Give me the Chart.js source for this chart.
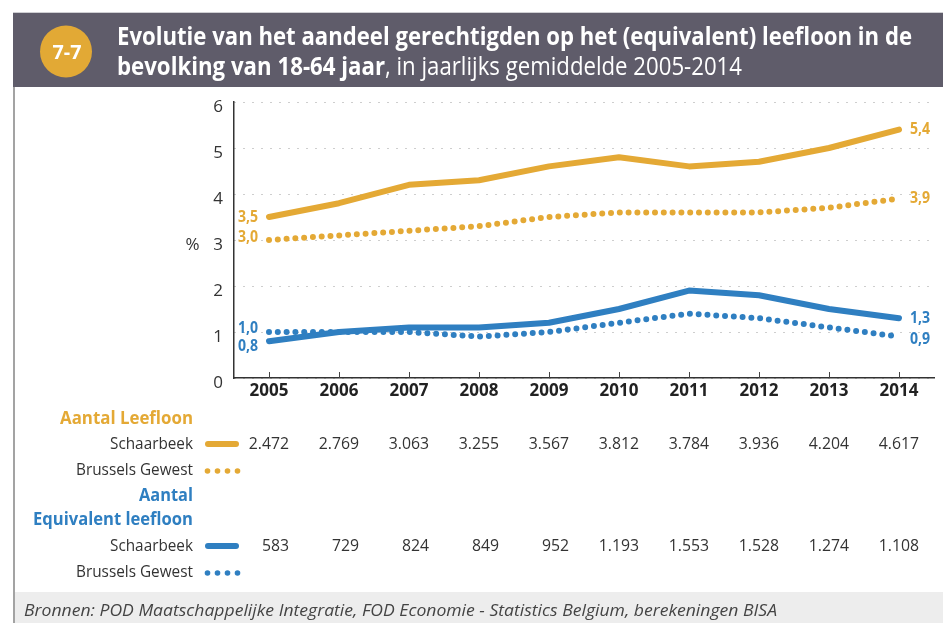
<!DOCTYPE html>
<html><head><meta charset="utf-8">
<script src="https://cdn.jsdelivr.net/npm/chart.js@4.4.1/dist/chart.umd.min.js"></script>
<style>html,body{margin:0;padding:0;background:#fff;overflow:hidden}#wrap{width:943px;height:623px;position:relative}</style>
</head><body><div id="wrap"><canvas id="c" width="943" height="623"></canvas></div>
<script>
// ---- data ----
const years = ['2005','2006','2007','2008','2009','2010','2011','2012','2013','2014'];
const leefloonSchaarbeek = [3.5, 3.8, 4.2, 4.3, 4.6, 4.8, 4.6, 4.7, 5.0, 5.4];
const leefloonBrussel    = [3.0, 3.1, 3.2, 3.3, 3.5, 3.6, 3.6, 3.6, 3.7, 3.9];
const equivSchaarbeek    = [0.8, 1.0, 1.1, 1.1, 1.2, 1.5, 1.9, 1.8, 1.5, 1.3];
const equivBrussel       = [1.0, 1.0, 1.0, 0.9, 1.0, 1.2, 1.4, 1.3, 1.1, 0.9];
const aantalLeefloonSchaarbeek = [2472, 2769, 3063, 3255, 3567, 3812, 3784, 3936, 4204, 4617];
const aantalEquivSchaarbeek    = [583, 729, 824, 849, 952, 1193, 1553, 1528, 1274, 1108];
const yMin = 0, yMax = 6, yStep = 1;
const titleLine1 = 'Evolutie van het aandeel gerechtigden op het (equivalent) leefloon in de';
const titleLine2Bold = 'bevolking van 18-64 jaar';
const titleLine2Rest = ', in jaarlijks gemiddelde 2005-2014';
const badge = '7-7';
const source = 'Bronnen: POD Maatschappelijke Integratie, FOD Economie - Statistics Belgium, berekeningen BISA';
const groupLeefloon = 'Aantal Leefloon';
const groupEquiv1 = 'Aantal';
const groupEquiv2 = 'Equivalent leefloon';
const rowSchaarbeek = 'Schaarbeek';
const rowBrussel = 'Brussels Gewest';

// ---- styles ----
const ORANGE = '#e4a935';
const BLUE = '#2f7fc1';
const FONT = '"Open Sans", "DejaVu Sans", sans-serif';

function txt(ctx, s, x, y, o) {
  ctx.save();
  ctx.font = o.font; ctx.fillStyle = o.color || '#333';
  ctx.textBaseline = o.baseline || 'middle'; ctx.textAlign = 'left';
  const mw = ctx.measureText(s).width;
  const sx = o.width ? o.width / mw : (o.sx || 1);
  const w = mw * sx;
  const left = o.align === 'right' ? x - w : o.align === 'center' ? x - w / 2 : x;
  ctx.translate(left, y); ctx.scale(sx, 1); ctx.fillText(s, 0, 0);
  ctx.restore();
  return w;
}
const fmt1 = v => v.toFixed(1).replace('.', ',');
const fmtK = n => String(n).replace(/\B(?=(\d{3})+(?!\d))/g, '.');

const decor = {
  id: 'decor',
  beforeDraw(chart) {
    const ctx = chart.ctx;
    ctx.save();
    ctx.fillStyle = '#fff'; ctx.fillRect(0, 0, 943, 623);
    ctx.fillStyle = '#cfcfd3'; ctx.fillRect(13, 12, 930, 1);
    ctx.fillStyle = '#5f5c6a'; ctx.fillRect(13, 13, 930, 74);
    ctx.fillStyle = '#a3a3a3'; ctx.fillRect(13, 87, 2, 536);
    ctx.fillStyle = '#ededed'; ctx.fillRect(15, 592, 928, 31);
    ctx.beginPath(); ctx.arc(66, 51.5, 26, 0, Math.PI * 2); ctx.fillStyle = '#e2a935'; ctx.fill();
    ctx.restore();
    txt(ctx, badge, 67, 53, {font: 'bold 20px ' + FONT, color: '#fff', align: 'center', width: 29});
    txt(ctx, titleLine1, 117, 45, {font: 'bold 25px ' + FONT, color: '#fff', baseline: 'alphabetic', width: 795});
    const w = txt(ctx, titleLine2Bold, 117, 75, {font: 'bold 25px ' + FONT, color: '#fff', baseline: 'alphabetic', width: 268});
    txt(ctx, titleLine2Rest, 117 + w, 75, {font: '25px ' + FONT, color: '#fff', baseline: 'alphabetic', width: 742 - 117 - w});
    txt(ctx, source, 24, 611, {font: 'italic 17px ' + FONT, color: '#444', width: 753});
  },
  beforeDatasetsDraw(chart) {
    const ctx = chart.ctx, xs = chart.scales.x, bottom = chart.chartArea.bottom;
    ctx.save(); ctx.strokeStyle = '#444'; ctx.lineWidth = 1;
    xs.ticks.forEach((t, i) => {
      const x = Math.round(xs.getPixelForTick(i)) + 0.5;
      ctx.beginPath(); ctx.moveTo(x, bottom - 6); ctx.lineTo(x, bottom); ctx.stroke();
    });
    ctx.restore();
  },
  afterDraw(chart) {
    const ctx = chart.ctx, xs = chart.scales.x, ys = chart.scales.y;
    txt(ctx, '%', 192.5, ys.getPixelForValue(3) + 5, {font: '17px ' + FONT, color: '#333', align: 'center'});
    const lab = [
      {ds: 0, color: ORANGE, dyS: 0, dyE: 0},
      {ds: 1, color: ORANGE, dyS: -2.5, dyE: 0},
      {ds: 2, color: BLUE, dyS: 5, dyE: 0},
      {ds: 3, color: BLUE, dyS: -4, dyE: 2.5},
    ];
    lab.forEach(l => {
      const meta = chart.getDatasetMeta(l.ds);
      const d = chart.data.datasets[l.ds].data;
      const p0 = meta.data[0], pn = meta.data[d.length - 1];
      txt(ctx, fmt1(d[0]), p0.x - 11, p0.y + l.dyS, {font: 'bold 16px ' + FONT, color: l.color, align: 'right', sx: 0.88});
      txt(ctx, fmt1(d[d.length - 1]), pn.x + 11, pn.y + l.dyE, {font: 'bold 16px ' + FONT, color: l.color, sx: 0.88});
    });
    const R = 193;
    txt(ctx, groupLeefloon, R, 419, {font: 'bold 17px ' + FONT, color: ORANGE, align: 'right', width: 133});
    txt(ctx, rowSchaarbeek, R, 444, {font: '17px ' + FONT, color: '#333', align: 'right', width: 83});
    txt(ctx, rowBrussel, R, 470, {font: '17px ' + FONT, color: '#333', align: 'right', width: 117});
    txt(ctx, groupEquiv1, R, 496, {font: 'bold 17px ' + FONT, color: BLUE, align: 'right', width: 54});
    txt(ctx, groupEquiv2, R, 520, {font: 'bold 17px ' + FONT, color: BLUE, align: 'right', width: 160});
    txt(ctx, rowSchaarbeek, R, 546, {font: '17px ' + FONT, color: '#333', align: 'right', width: 83});
    txt(ctx, rowBrussel, R, 572, {font: '17px ' + FONT, color: '#333', align: 'right', width: 117});
    ctx.save(); ctx.lineCap = 'round';
    [[444, ORANGE], [546, BLUE]].forEach(([y, c]) => {
      ctx.strokeStyle = c; ctx.lineWidth = 6;
      ctx.beginPath(); ctx.moveTo(208, y); ctx.lineTo(236, y); ctx.stroke();
    });
    [[470, ORANGE], [572, BLUE]].forEach(([y, c]) => {
      ctx.fillStyle = c;
      for (let k = 0; k < 4; k++) { ctx.beginPath(); ctx.arc(207.5 + k * 10, y + 1, 2.8, 0, Math.PI * 2); ctx.fill(); }
    });
    ctx.restore();
    aantalLeefloonSchaarbeek.forEach((v, i) => {
      txt(ctx, fmtK(v), xs.getPixelForValue(i) + 20, 444, {font: '17px ' + FONT, color: '#333', align: 'right', sx: 0.93});
    });
    aantalEquivSchaarbeek.forEach((v, i) => {
      txt(ctx, fmtK(v), xs.getPixelForValue(i) + 20, 546, {font: '17px ' + FONT, color: '#333', align: 'right', sx: 0.93});
    });
  }
};

const solid = c => ({borderColor: c, backgroundColor: c, borderWidth: 6, borderCapStyle: 'round', borderJoinStyle: 'round', pointRadius: 0, tension: 0, fill: false});
const dotted = c => ({borderColor: c, backgroundColor: c, borderWidth: 6, borderDash: [0, 8.8], borderCapStyle: 'round', borderJoinStyle: 'round', pointRadius: 0, tension: 0, fill: false});

new Chart(document.getElementById('c'), {
  type: 'line',
  data: {
    labels: years,
    datasets: [
      Object.assign({label: 'Leefloon Schaarbeek', data: leefloonSchaarbeek}, solid(ORANGE)),
      Object.assign({label: 'Leefloon Brussels Gewest', data: leefloonBrussel}, dotted(ORANGE)),
      Object.assign({label: 'Equivalent Schaarbeek', data: equivSchaarbeek}, solid(BLUE)),
      Object.assign({label: 'Equivalent Brussels Gewest', data: equivBrussel}, dotted(BLUE)),
    ]
  },
  options: {
    responsive: false, animation: false, devicePixelRatio: 1,
    layout: {padding: {top: 102, left: 0, right: 9, bottom: 215}},
    plugins: {legend: {display: false}, tooltip: {enabled: false}, title: {display: false}},
    scales: {
      x: {
        type: 'category', offset: true,
        grid: {display: false, drawTicks: false},
        border: {display: true, color: '#333', width: 1.5},
        ticks: {font: {family: FONT, size: 17, weight: 'bold'}, color: '#222', padding: 3, autoSkip: false, maxRotation: 0},
        afterFit: s => { s.height = 30; }
      },
      y: {
        min: yMin, max: yMax,
        grid: {color: '#9d9d9d', lineWidth: 1, drawTicks: false},
        border: {display: true, color: '#333', width: 1.5, dash: [1, 8]},
        ticks: {stepSize: yStep, font: {family: FONT, size: 17}, color: '#333', padding: 11, labelOffset: 5},
        afterFit: s => { s.width = 234; }
      }
    }
  },
  plugins: [decor]
});
</script>
</body></html>
